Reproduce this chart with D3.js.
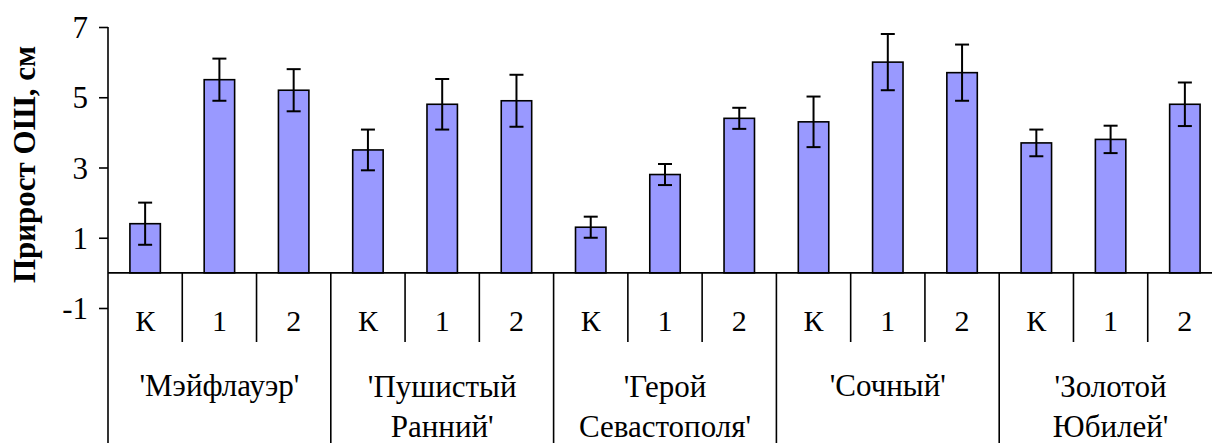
<!DOCTYPE html>
<html>
<head>
<meta charset="utf-8">
<script src="https://cdn.jsdelivr.net/npm/d3@7"></script>
<style>
  html, body { margin: 0; padding: 0; background: #fff; }
  svg { display: block; }
</style>
</head>
<body>
<svg id="chart" width="1212" height="443"></svg>
<script>
// Cultivars (outer category level); "\n" marks a line break in the label
const cultivars = ["'Мэйфлауэр'", "'Пушистый\nРанний'", "'Герой\nСевастополя'", "'Сочный'", "'Золотой\nЮбилей'"];
// Treatments (inner category level)
const treatments = ["К", "1", "2"];
// Mean growth, cm — one value per cultivar × treatment, in order
const growth = [1.4, 5.5, 5.2,  3.5, 4.8, 4.9,  1.3, 2.8, 4.4,  4.3, 6.0, 5.7,  3.7, 3.8, 4.8];
// Error bar half-widths, cm
const errors = [0.6, 0.6, 0.6,  0.58, 0.72, 0.74,  0.3, 0.3, 0.3,  0.72, 0.8, 0.8,  0.38, 0.39, 0.62];
// Value axis tick labels
const yTicks = [-1, 1, 3, 5, 7];
const yTitle = "Прирост ОШ, см";

const FONT = "Liberation Serif";
const svg = d3.select("#chart");
const H = 443, W = 1212;

const rows = [];
cultivars.forEach((c, gi) => treatments.forEach((t, ti) => {
  const i = gi * treatments.length + ti;
  rows.push({ key: i, group: gi, cultivar: c, treatment: t, value: growth[i], err: errors[i] });
}));

const x = d3.scaleBand().domain(rows.map(d => d.key)).range([108, 1222]).padding(0);
const y = d3.scaleLinear().domain([-1, 7]).range([308, 27]);
const barW = x.bandwidth() * 0.41;
const y0 = y(0);

function label(g, px, py, str, size, anchor) {
  return g.append("text")
    .attr("x", px).attr("y", py)
    .attr("text-anchor", anchor || "middle")
    .style("font-family", FONT)
    .style("font-size", size + "px")
    .style("fill", "#000")
    .text(str);
}

// Bars
svg.append("g").selectAll("rect").data(rows).join("rect")
  .attr("x", d => x(d.key) + x.bandwidth() / 2 - barW / 2)
  .attr("y", d => y(d.value))
  .attr("width", barW)
  .attr("height", d => y0 - y(d.value))
  .attr("fill", "#9999ff")
  .attr("stroke", "#000")
  .attr("stroke-width", 1.6);

// Error bars
const eg = svg.append("g").attr("stroke", "#000").attr("stroke-width", 2);
rows.forEach(d => {
  const cx = x(d.key) + x.bandwidth() / 2;
  const cap = 7;
  eg.append("line").attr("x1", cx).attr("x2", cx).attr("y1", y(d.value + d.err)).attr("y2", y(d.value - d.err));
  eg.append("line").attr("x1", cx - cap).attr("x2", cx + cap).attr("y1", y(d.value + d.err)).attr("y2", y(d.value + d.err));
  eg.append("line").attr("x1", cx - cap).attr("x2", cx + cap).attr("y1", y(d.value - d.err)).attr("y2", y(d.value - d.err));
});

// Category axis at zero
svg.append("line").attr("x1", 108).attr("x2", W).attr("y1", y0).attr("y2", y0)
  .attr("stroke", "#000").attr("stroke-width", 1.6);

// Dividers between treatments (short) and between cultivars (full height)
const dg = svg.append("g").attr("stroke", "#000").attr("stroke-width", 1.6);
rows.forEach((d, i) => {
  if (i === 0) return;
  const bx = x(d.key);
  const isGroup = i % treatments.length === 0;
  dg.append("line").attr("x1", bx).attr("x2", bx).attr("y1", y0).attr("y2", isGroup ? H : 342);
});
dg.append("line").attr("x1", 1222).attr("x2", 1222).attr("y1", y0).attr("y2", H);

// Treatment labels
const lg = svg.append("g");
rows.forEach(d => label(lg, x(d.key) + x.bandwidth() / 2, 331, d.treatment, 30));

// Cultivar labels
cultivars.forEach((c, gi) => {
  const cx = x(gi * treatments.length) + x.bandwidth() * treatments.length / 2;
  const lines = c.split("\n");
  if (lines.length === 1) {
    label(lg, cx, 396, lines[0], 31);
  } else {
    lines.forEach((ln, li) => label(lg, cx, 397 + li * 40, ln, 31));
  }
});

// Value axis (plain hyphen for negatives)
const ax = svg.append("g").attr("transform", "translate(108,0)")
  .call(d3.axisLeft(y).tickValues(yTicks).tickSize(9).tickFormat(d => String(d)));
ax.select(".domain").remove();
ax.selectAll(".tick line").attr("stroke", "#000").attr("stroke-width", 1.6);
ax.selectAll(".tick text")
  .attr("x", -20).attr("dy", null).attr("y", 10.5)
  .attr("fill", "#000")
  .style("font-family", FONT)
  .style("font-size", "31px");
svg.append("line").attr("x1", 108).attr("x2", 108).attr("y1", y(7)).attr("y2", H)
  .attr("stroke", "#000").attr("stroke-width", 1.6);

// Axis title
svg.append("text")
  .attr("transform", `translate(35,${(47 + 282) / 2}) rotate(-90)`)
  .attr("text-anchor", "middle")
  .style("font-family", FONT)
  .style("font-size", "31px")
  .style("font-weight", "bold")
  .text(yTitle);
</script>
</body>
</html>
